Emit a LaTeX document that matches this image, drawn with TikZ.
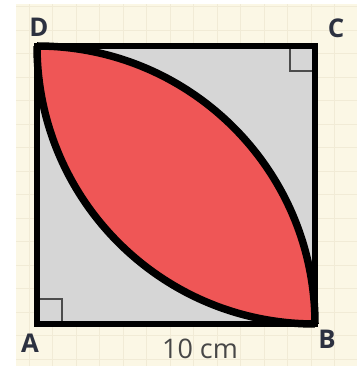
\documentclass[tikz,border=0pt]{standalone}
\usepackage{fontspec}
\setmainfont{Open Sans}
\usepackage{xcolor}
\usetikzlibrary{positioning,calc}

\definecolor{paper}{HTML}{FBF7E5}
\definecolor{gridline}{HTML}{F1EBD6}
\definecolor{squaregray}{HTML}{D6D6D6}
\definecolor{lens}{HTML}{EF5656}
\definecolor{ink}{HTML}{2C3140}

\begin{document}
\begin{tikzpicture}[
  x=1cm,
  y=1cm,
  edge/.style={line width=5.4pt, draw=black, line join=miter},
  arcline/.style={line width=6.4pt, draw=black, line join=round},
  rightmark/.style={line width=1.1pt, draw=black!70},
  corner/.style={font=\fontsize{22}{24}\selectfont\bfseries, text=ink, inner sep=0pt},
  measure/.style={font=\fontsize{23}{25}\selectfont, text=black!72, inner sep=0pt}
]

% page and squared paper
\useasboundingbox (0,0) rectangle (10.71,10.98);
\fill[white] (0,0) rectangle (10.71,10.98);
\fill[paper] (0.48,0) rectangle (10.71,10.86);
\foreach \gx in {0.87,1.575,...,10.7}
  \draw[gridline, line width=0.5pt] (\gx,0) -- (\gx,10.86);
\foreach \gy in {0.21,0.915,...,10.8}
  \draw[gridline, line width=0.5pt] (0.48,\gy) -- (10.71,\gy);

% square ABCD
\coordinate (A) at (1.11,1.26);
\coordinate (B) at (9.45,1.26);
\coordinate (C) at (9.45,9.60);
\coordinate (D) at (1.11,9.60);

\fill[squaregray] (A) rectangle (C);
\fill[lens] (D) arc[start angle=180, end angle=270, radius=8.34]
  arc[start angle=0, end angle=90, radius=8.34] -- cycle;

\draw[rightmark] (A) rectangle ($(A)+(0.75,0.75)$);
\draw[rightmark] (C) rectangle ($(C)+(-0.75,-0.75)$);

\draw[arcline] (D) arc[start angle=180, end angle=270, radius=8.34];
\draw[arcline] (B) arc[start angle=0, end angle=90, radius=8.34];
\draw[edge] (A) -- (B) -- (C) -- (D) -- cycle;

\node[corner] (lblD) at (1.17,10.17) {D};
\node[corner] (lblC) at (10.08,10.14) {C};
\node[corner] (lblA) at (0.90,0.69) {A};
\node[corner] (lblB) at (9.81,0.81) {B};
\node[measure] (side) at (6.00,0.50) {10 cm};

\end{tikzpicture}
\end{document}
